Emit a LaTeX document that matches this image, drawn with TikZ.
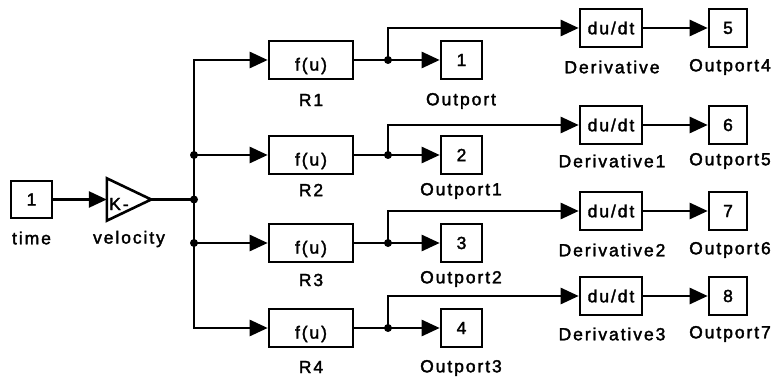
\documentclass[tikz,border=0pt]{standalone}
\usepackage{fontspec}
\setmainfont{Liberation Sans}[LetterSpace=11,FakeBold=2]
\usetikzlibrary{arrows.meta}
\begin{document}
\begin{tikzpicture}[x=1pt,y=-1pt,
  font=\fontsize{17.5}{20}\selectfont,
  wire/.style={line width=2.6pt},
  sig/.style={wire,-{Triangle[length=18pt,width=16pt]}},
  blk/.style={draw,line width=2.6pt,inner sep=0pt,minimum height=38pt},
  lbl/.style={inner sep=0pt},
  jdot/.style={circle,fill,inner sep=0pt,minimum size=8pt}]
\useasboundingbox (0,0) rectangle (775,379);

% source and gain
\node[blk,minimum width=41pt,minimum height=37pt] (time) at (31.5,199.5) {1};
\node[lbl] (timel) at (31.5,238) {time};
\node[minimum width=44pt,minimum height=42pt,inner sep=0pt] (gain) at (129,199.5) {};
\draw[wire,line join=miter] (gain.north west) -- (gain.east) -- (gain.south west) -- cycle;
\node[lbl,anchor=west] (gaint) at (109,204) {K-};
\node[lbl] (gainl) at (129,239) {velocity};
\draw[sig] (time) -- (gain.west);

% bus
\coordinate (jv) at (194,199.5);
\coordinate (j2) at (194,155);
\coordinate (j3) at (194,243);
\draw[wire] (gain.east) -- (jv);

% R blocks
\foreach \i/\y/\ly in {1/60/100,2/155/190,3/243/280,4/328/367}{
  \node[blk,minimum width=84pt] (R\i) at (311,\y) {};
  \node[lbl] (R\i t) at (311,\y+6) {f(u)};
  \node[lbl] (R\i l) at (311,\ly) {R\i};
}
\draw[sig] (jv) |- (R1.west);
\draw[sig] (jv) |- (R4.west);
\draw[sig] (j2) -- (R2.west);
\draw[sig] (j3) -- (R3.west);
\node[jdot] at (jv) {};
\node[jdot] at (j2) {};
\node[jdot] at (j3) {};

% outports 1-4
\foreach \i/\y/\ly/\n/\t in {1/60/101/1/Outport,2/155/191/2/Outport1,3/243/279/3/Outport2,4/328/368/4/Outport3}{
  \node[blk,minimum width=41pt] (O\i) at (461.5,\y) {\n};
  \node[lbl] (O\i l) at (461,\ly) {\t};
  \coordinate (d\i) at (388,\y);
}

% derivatives and outports 5-8
\foreach \i/\y/\ly/\n/\dn/\pn in {1/28/67/5/Derivative/Outport4,2/125/161/6/Derivative1/Outport5,3/211/250/7/Derivative2/Outport6,4/296/334/8/Derivative3/Outport7}{
  \node[blk,minimum width=62pt] (D\i) at (611,\y) {du/dt};
  \node[lbl] (D\i l) at (612,\ly) {\dn};
  \node[blk,minimum width=38pt] (P\i) at (728,\y) {\n};
  \node[lbl] (P\i l) at (730,\ly) {\pn};
  \draw[sig] (D\i) -- (P\i);
}

\foreach \i in {1,2,3,4}{
  \draw[wire] (R\i.east) -- (d\i);
  \draw[sig] (d\i) -- (O\i.west);
  \draw[sig] (d\i) |- (D\i.west);
  \node[jdot] at (d\i) {};
}
\end{tikzpicture}
\end{document}
